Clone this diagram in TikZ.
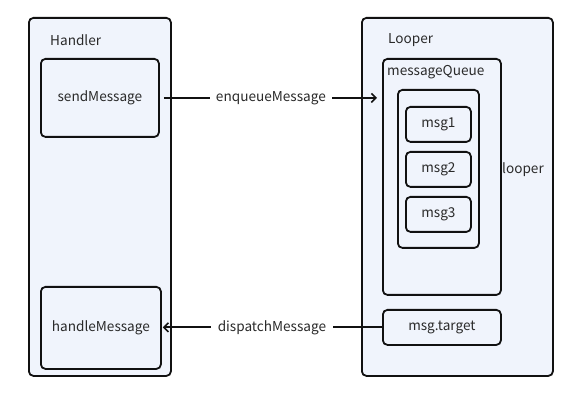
\documentclass[tikz,border=0pt]{standalone}
\usepackage{fontspec}
\setmainfont{Noto Sans CJK SC}
\usetikzlibrary{arrows.meta}
\definecolor{boxfill}{HTML}{F0F4FC}
\definecolor{ink}{HTML}{111111}
\definecolor{txt}{HTML}{2A2A2A}
\tikzset{
  box/.style={draw=ink, line width=1.8pt, rounded corners=4.5pt, fill=boxfill, inner sep=0pt, anchor=north west},
  lbl/.style={font=\fontsize{13.6}{15}\selectfont, text=txt, inner sep=1pt},
  conn/.style={draw=ink, line width=1.8pt, -{Straight Barb[length=4.5pt,width=9pt,line width=1.6pt]}},
}
\begin{document}
\begin{tikzpicture}[x=1pt,y=-1pt]
\useasboundingbox (0,0) rectangle (581,403);
% containers
\node[box, minimum width=142pt, minimum height=358pt] (handler) at (28,17) {};
\node[box, minimum width=191pt, minimum height=358pt] (looper) at (361,17) {};
\node[lbl, anchor=west] (handlerlbl) at (49,40) {Handler};
\node[lbl, anchor=west] (looperlbl) at (387,40) {Looper};
% handler inner
\node[box, minimum width=118pt, minimum height=78pt, lbl, inner sep=0pt] (send) at (40,58) {sendMessage};
\node[box, minimum width=120pt, minimum height=82pt, lbl, inner sep=0pt] (handle) at (40,286) {handleMessage};
% looper inner
\node[box, minimum width=118pt, minimum height=236pt] (mq) at (382,58) {};
\node[lbl, anchor=west] (mqlbl) at (386,72) {messageQueue};
\node[box, minimum width=81pt, minimum height=158pt] (queue) at (397,89) {};
\node[box, minimum width=65pt, minimum height=35pt, lbl, inner sep=0pt] (m1) at (405,106) {msg1};
\node[box, minimum width=65pt, minimum height=35pt, lbl, inner sep=0pt] (m2) at (405,151) {msg2};
\node[box, minimum width=65pt, minimum height=35pt, lbl, inner sep=0pt] (m3) at (405,196) {msg3};
\node[lbl] (looperin) at (523,170) {looper};
\node[box, minimum width=118pt, minimum height=35pt, lbl, inner sep=0pt] (target) at (382,309) {msg.target};
% connectors
\draw[conn, shorten <=4pt, shorten >=5pt] (send.east) -- (send.east -| mq.west)
  node[midway, lbl, fill=white, inner xsep=6pt] (enq) {enqueueMessage};
\draw[conn, shorten >=1pt] (target.west) -- (target.west -| handle.east)
  node[midway, lbl, fill=white, inner xsep=7pt] (disp) {dispatchMessage};
\end{tikzpicture}
\end{document}
